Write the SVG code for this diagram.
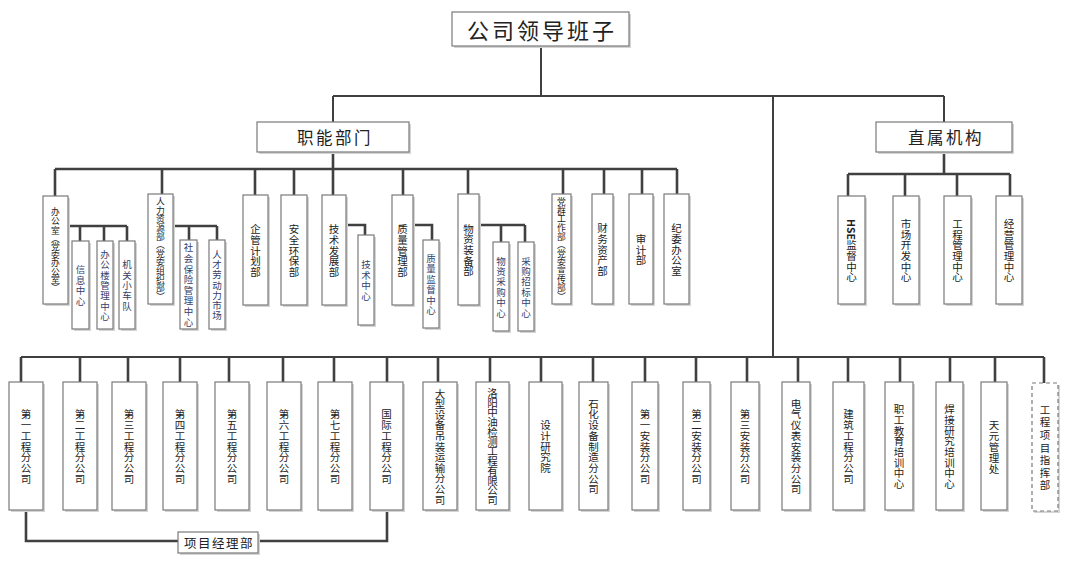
<svg xmlns="http://www.w3.org/2000/svg" width="1080" height="581" viewBox="0 0 1080 581">
<defs>
<style>
.bg{fill:#fff}
.sh{fill:#d4d4d4}
.bx{fill:#fff;stroke:#7a7a7a;stroke-width:1.2}
.dash{fill:#fff;stroke:#7a7a7a;stroke-width:1.2;stroke-dasharray:4 3}
.ln{fill:none;stroke:#404040;stroke-width:2}
.lk{fill:none;stroke:#404040;stroke-width:2.6}
text{font-family:"Noto Sans CJK SC","Noto Sans",sans-serif;fill:#222;text-anchor:middle;dominant-baseline:central}
.v{font-size:10.5px}
.vs{font-size:9.5px;fill:#34406a}
.vp{font-size:8.8px}
</style>
</defs>
<rect class="bg" x="0" y="0" width="1080" height="581"/>

<g id="connectors">
<path class="ln" d="M541 46V96M333 96H944M333 96V122M944 96V122M773 96V357"/>
<path class="lk" d="M333 152V169M55 169H677M55 169V196M162 169V194M255 169V195M294 169V195M333 169V195M403 169V195M468 169V194M563 169V194M604 169V194M642 169V194M677 169V194"/>
<path class="lk" d="M68 226H127M80 226V241M104 226V241M127 226V241"/>
<path class="lk" d="M173 226H217M189 226V240M217 226V240"/>
<path class="lk" d="M346 225H365V235M413 225H432V240"/>
<path class="lk" d="M479 225H525M501 225V242M525 225V242"/>
<path class="lk" d="M944 152V174M848 174H1010M848 174V196M905 174V196M957 174V196M1010 174V196"/>
<path class="ln" d="M21 357H1044"/>
<path class="lk" d="M21 357V382M80 357V382M128 357V382M180 357V382M229 357V382M283 357V382M334 357V382M387 357V382M438 357V382M490 357V382M541 357V382M593 357V382M645 357V382M696 357V382M747 357V382M798 357V382M848 357V382M900 357V382M950 357V382M995 357V382M1044 357V383"/>
<path class="lk" d="M26 510V541H178M258 541H387V510"/>
</g>

<g id="n-leader"><rect class="sh" x="454" y="14" width="177" height="34"/><rect class="bx" x="452" y="12" width="177" height="34"/><text x="542" y="29" font-size="22" letter-spacing="3">公司领导班子</text></g>
<g id="n-func"><rect class="sh" x="259" y="124" width="152" height="30"/><rect class="bx" x="257" y="122" width="152" height="30"/><text x="335" y="137" font-size="16.5" letter-spacing="2.5">职能部门</text></g>
<g id="n-direct"><rect class="sh" x="878" y="124" width="136" height="30"/><rect class="bx" x="876" y="122" width="136" height="30"/><text x="946" y="137" font-size="16.5" letter-spacing="2.5">直属机构</text></g>

<g id="n-bgs"><rect class="sh" x="45" y="198" width="25" height="108"/><rect class="bx" x="43" y="196" width="25" height="108"/><text class="vp" font-size="8.6" x="55.5 55.5 55.5 55.5 55.5 55.5 55.5 55.5 55.5 55.5" y="211.5 220.8 230.1 238.5 246.5 254.7 262.9 271.1 279.3 287.5">办公室︵党委办公室︶</text></g>
<g id="n-xx"><rect class="sh" x="74" y="243" width="17" height="88"/><rect class="bx" x="72" y="241" width="17" height="88"/><text class="vs" x="80.5 80.5 80.5 80.5" y="269.4 279.8 290.2 300.6">信息中心</text></g>
<g id="n-bgl"><rect class="sh" x="99" y="243" width="16" height="88"/><rect class="bx" x="97" y="241" width="16" height="88"/><text class="vs" x="105 105 105 105 105 105 105" y="253.8 264.2 274.6 285 295.4 305.8 316.2">办公楼管理中心</text></g>
<g id="n-jg"><rect class="sh" x="121" y="243" width="16" height="88"/><rect class="bx" x="119" y="241" width="16" height="88"/><text class="vs" x="127 127 127 127 127" y="264.2 274.6 285 295.4 305.8">机关小车队</text></g>
<g id="n-rl"><rect class="sh" x="150" y="196" width="25" height="110"/><rect class="bx" x="148" y="194" width="25" height="110"/><text class="vp" font-size="9.2" x="160.5 160.5 160.5 160.5 160.5 160.5 160.5 160.5 160.5 160.5 160.5 160.5" y="201.7 210.3 218.9 227.5 236.1 244.7 253.3 261.9 270.5 279.1 287.7 296.3">人力资源部︵党委组织部︶</text></g>
<g id="n-sb"><rect class="sh" x="182" y="242" width="17" height="89"/><rect class="bx" x="180" y="240" width="17" height="89"/><text class="vs" x="188.5 188.5 188.5 188.5 188.5 188.5 188.5 188.5" y="247.4 258 268.6 279.2 289.8 300.4 311 321.6">社会保险管理中心</text></g>
<g id="n-rc"><rect class="sh" x="211" y="242" width="16" height="89"/><rect class="bx" x="209" y="240" width="16" height="89"/><text class="vs" x="217 217 217 217 217 217 217" y="253.6 263.9 274.2 284.5 294.8 305.1 315.4">人才劳动力市场</text></g>
<g id="n-qg"><rect class="sh" x="245" y="197" width="25" height="110"/><rect class="bx" x="243" y="195" width="25" height="110"/><text class="v" x="255.5 255.5 255.5 255.5 255.5" y="228.6 239.3 250 260.7 271.4">企管计划部</text></g>
<g id="n-aq"><rect class="sh" x="283" y="197" width="26" height="110"/><rect class="bx" x="281" y="195" width="26" height="110"/><text class="v" x="294 294 294 294 294" y="228.6 239.3 250 260.7 271.4">安全环保部</text></g>
<g id="n-js"><rect class="sh" x="324" y="197" width="24" height="110"/><rect class="bx" x="322" y="195" width="24" height="110"/><text class="v" x="334 334 334 334 334" y="228.6 239.3 250 260.7 271.4">技术发展部</text></g>
<g id="n-jszx"><rect class="sh" x="360" y="237" width="16" height="90"/><rect class="bx" x="358" y="235" width="16" height="90"/><text class="vs" x="366 366 366 366" y="264.4 274.8 285.2 295.6">技术中心</text></g>
<g id="n-zl"><rect class="sh" x="394" y="197" width="21" height="110"/><rect class="bx" x="392" y="195" width="21" height="110"/><text class="v" x="402.5 402.5 402.5 402.5 402.5" y="228.6 239.3 250 260.7 271.4">质量管理部</text></g>
<g id="n-zljd"><rect class="sh" x="425" y="242" width="16" height="88"/><rect class="bx" x="423" y="240" width="16" height="88"/><text class="vs" x="431 431 431 431 431 431" y="258 268.4 278.8 289.2 299.6 310">质量监督中心</text></g>
<g id="n-wz"><rect class="sh" x="460" y="196" width="21" height="111"/><rect class="bx" x="458" y="194" width="21" height="111"/><text class="v" x="468.5 468.5 468.5 468.5 468.5" y="228.1 238.8 249.5 260.2 270.9">物资装备部</text></g>
<g id="n-wzcg"><rect class="sh" x="495" y="244" width="16" height="89"/><rect class="bx" x="493" y="242" width="16" height="89"/><text class="vs" x="501 501 501 501 501 501" y="260.5 270.9 281.3 291.7 302.1 312.5">物资采购中心</text></g>
<g id="n-cgzb"><rect class="sh" x="520" y="244" width="16" height="89"/><rect class="bx" x="518" y="242" width="16" height="89"/><text class="vs" x="526 526 526 526 526 526" y="260.5 270.9 281.3 291.7 302.1 312.5">采购招标中心</text></g>
<g id="n-dq"><rect class="sh" x="554" y="196" width="19" height="110"/><rect class="bx" x="552" y="194" width="19" height="110"/><text class="vp" x="561.5 561.5 561.5 561.5 561.5 561.5 561.5 561.5 561.5 561.5 561.5 561.5" y="201.7 210.3 218.9 227.5 236.1 244.7 253.3 261.9 270.5 279.1 287.7 296.3">党群工作部︵党委宣传部︶</text></g>
<g id="n-cw"><rect class="sh" x="594" y="196" width="21" height="110"/><rect class="bx" x="592" y="194" width="21" height="110"/><text class="v" x="602.5 602.5 602.5 602.5 602.5" y="227.6 238.3 249 259.7 270.4">财务资产部</text></g>
<g id="n-sj"><rect class="sh" x="631" y="196" width="24" height="110"/><rect class="bx" x="629" y="194" width="24" height="110"/><text class="v" x="641 641 641" y="238.3 249 259.7">审计部</text></g>
<g id="n-jw"><rect class="sh" x="666" y="196" width="25" height="110"/><rect class="bx" x="664" y="194" width="25" height="110"/><text class="v" x="676.5 676.5 676.5 676.5 676.5" y="227.6 238.3 249 259.7 270.4">纪委办公室</text></g>

<g id="n-hse"><rect class="sh" x="840" y="198" width="27" height="108"/><rect class="bx" x="838" y="196" width="27" height="108"/><text class="v" font-size="9.5" font-weight="bold" x="851.5" y="229.5" transform="rotate(90 851.5 229.5)">HSE</text><text class="v" x="851.5 851.5 851.5 851.5" y="244.6 255.3 266 276.7">监督中心</text></g>
<g id="n-sc"><rect class="sh" x="895" y="198" width="26" height="108"/><rect class="bx" x="893" y="196" width="26" height="108"/><text class="v" x="906 906 906 906 906 906" y="223.3 234 244.7 255.4 266.1 276.8">市场开发中心</text></g>
<g id="n-gcgl"><rect class="sh" x="946" y="198" width="27" height="108"/><rect class="bx" x="944" y="196" width="27" height="108"/><text class="v" x="957.5 957.5 957.5 957.5 957.5 957.5" y="223.3 234 244.7 255.4 266.1 276.8">工程管理中心</text></g>
<g id="n-jy"><rect class="sh" x="998" y="198" width="26" height="108"/><rect class="bx" x="996" y="196" width="26" height="108"/><text class="v" x="1009 1009 1009 1009 1009 1009" y="223.3 234 244.7 255.4 266.1 276.8">经营管理中心</text></g>

<g id="n-b1"><rect class="sh" x="11" y="384" width="34" height="128"/><rect class="bx" x="9" y="382" width="34" height="128"/><text class="v" x="26 26 26 26 26 26 26" y="413.9 424.6 435.3 446 456.7 467.4 478.1">第一工程分公司</text></g>
<g id="n-b2"><rect class="sh" x="65" y="384" width="34" height="128"/><rect class="bx" x="63" y="382" width="34" height="128"/><text class="v" x="80 80 80 80 80 80 80" y="413.9 424.6 435.3 446 456.7 467.4 478.1">第二工程分公司</text></g>
<g id="n-b3"><rect class="sh" x="114" y="384" width="34" height="128"/><rect class="bx" x="112" y="382" width="34" height="128"/><text class="v" x="129 129 129 129 129 129 129" y="413.9 424.6 435.3 446 456.7 467.4 478.1">第三工程分公司</text></g>
<g id="n-b4"><rect class="sh" x="165" y="384" width="34" height="128"/><rect class="bx" x="163" y="382" width="34" height="128"/><text class="v" x="180 180 180 180 180 180 180" y="413.9 424.6 435.3 446 456.7 467.4 478.1">第四工程分公司</text></g>
<g id="n-b5"><rect class="sh" x="217" y="384" width="34" height="128"/><rect class="bx" x="215" y="382" width="34" height="128"/><text class="v" x="232 232 232 232 232 232 232" y="413.9 424.6 435.3 446 456.7 467.4 478.1">第五工程分公司</text></g>
<g id="n-b6"><rect class="sh" x="269" y="384" width="34" height="128"/><rect class="bx" x="267" y="382" width="34" height="128"/><text class="v" x="284 284 284 284 284 284 284" y="413.9 424.6 435.3 446 456.7 467.4 478.1">第六工程分公司</text></g>
<g id="n-b7"><rect class="sh" x="320" y="384" width="34" height="128"/><rect class="bx" x="318" y="382" width="34" height="128"/><text class="v" x="335 335 335 335 335 335 335" y="413.9 424.6 435.3 446 456.7 467.4 478.1">第七工程分公司</text></g>
<g id="n-b8"><rect class="sh" x="372" y="384" width="33" height="128"/><rect class="bx" x="370" y="382" width="33" height="128"/><text class="v" x="386.5 386.5 386.5 386.5 386.5 386.5 386.5" y="413.9 424.6 435.3 446 456.7 467.4 478.1">国际工程分公司</text></g>
<g id="n-b9"><rect class="sh" x="425" y="384" width="34" height="128"/><rect class="bx" x="423" y="382" width="34" height="128"/><text class="v" x="440 440 440 440 440 440 440 440 440 440 440" y="393 403.6 414.2 424.8 435.4 446 456.6 467.2 477.8 488.4 499">大型设备吊装运输分公司</text></g>
<g id="n-b10"><rect class="sh" x="478" y="384" width="33" height="128"/><rect class="bx" x="476" y="382" width="33" height="128"/><text class="v" font-size="9.8" x="492.5 492.5 492.5 492.5 492.5 492.5 492.5 492.5 492.5 492.5 492.5 492.5" y="392.4 402.1 411.9 421.6 431.4 441.1 450.9 460.6 470.4 480.1 489.9 499.6">洛阳中油检测工程有限公司</text></g>
<g id="n-b11"><rect class="sh" x="531" y="384" width="33" height="128"/><rect class="bx" x="529" y="382" width="33" height="128"/><text class="v" x="545.5 545.5 545.5 545.5 545.5" y="424.6 435.3 446 456.7 467.4">设计研究院</text></g>
<g id="n-b12"><rect class="sh" x="581" y="384" width="29" height="128"/><rect class="bx" x="579" y="382" width="29" height="128"/><text class="v" x="593.5 593.5 593.5 593.5 593.5 593.5 593.5 593.5 593.5" y="403.2 413.9 424.6 435.3 446 456.7 467.4 478.1 488.8">石化设备制造分公司</text></g>
<g id="n-b13"><rect class="sh" x="634" y="384" width="26" height="128"/><rect class="bx" x="632" y="382" width="26" height="128"/><text class="v" x="645 645 645 645 645 645 645" y="413.9 424.6 435.3 446 456.7 467.4 478.1">第一安装分公司</text></g>
<g id="n-b14"><rect class="sh" x="685" y="384" width="27" height="128"/><rect class="bx" x="683" y="382" width="27" height="128"/><text class="v" x="696.5 696.5 696.5 696.5 696.5 696.5 696.5" y="413.9 424.6 435.3 446 456.7 467.4 478.1">第二安装分公司</text></g>
<g id="n-b15"><rect class="sh" x="733" y="384" width="28" height="128"/><rect class="bx" x="731" y="382" width="28" height="128"/><text class="v" x="745 745 745 745 745 745 745" y="413.9 424.6 435.3 446 456.7 467.4 478.1">第三安装分公司</text></g>
<g id="n-b16"><rect class="sh" x="784" y="384" width="28" height="128"/><rect class="bx" x="782" y="382" width="28" height="128"/><text class="v" x="796 796 796 796 796 796 796 796 796" y="403.2 413.9 424.6 435.3 446 456.7 467.4 478.1 488.8">电气仪表安装分公司</text></g>
<g id="n-b17"><rect class="sh" x="835" y="384" width="31" height="128"/><rect class="bx" x="833" y="382" width="31" height="128"/><text class="v" x="848.5 848.5 848.5 848.5 848.5 848.5 848.5" y="413.9 424.6 435.3 446 456.7 467.4 478.1">建筑工程分公司</text></g>
<g id="n-b18"><rect class="sh" x="887" y="384" width="28" height="128"/><rect class="bx" x="885" y="382" width="28" height="128"/><text class="v" x="899 899 899 899 899 899 899 899" y="408.6 419.3 430 440.7 451.4 462.1 472.8 483.5">职工教育培训中心</text></g>
<g id="n-b19"><rect class="sh" x="938" y="384" width="27" height="128"/><rect class="bx" x="936" y="382" width="27" height="128"/><text class="v" x="949.5 949.5 949.5 949.5 949.5 949.5 949.5 949.5" y="408.6 419.3 430 440.7 451.4 462.1 472.8 483.5">焊接研究培训中心</text></g>
<g id="n-b20"><rect class="sh" x="983" y="384" width="26" height="128"/><rect class="bx" x="981" y="382" width="26" height="128"/><text class="v" x="994 994 994 994 994" y="424 435 446 457 468">天元管理处</text></g>
<g id="n-b21"><rect class="sh" x="1034" y="385" width="26" height="128"/><rect class="dash" x="1032" y="383" width="26" height="128"/><text class="v" x="1045 1045 1045 1045 1045 1045 1045" y="409.2 421.8 434.4 447 459.6 472.2 484.8">工程项目指挥部</text></g>

<g id="n-xmjl"><rect class="sh" x="180" y="534" width="80" height="21"/><rect class="bx" x="178" y="532" width="80" height="21"/><text x="219" y="542.5" font-size="12.5" letter-spacing="1.5">项目经理部</text></g>
</svg>
